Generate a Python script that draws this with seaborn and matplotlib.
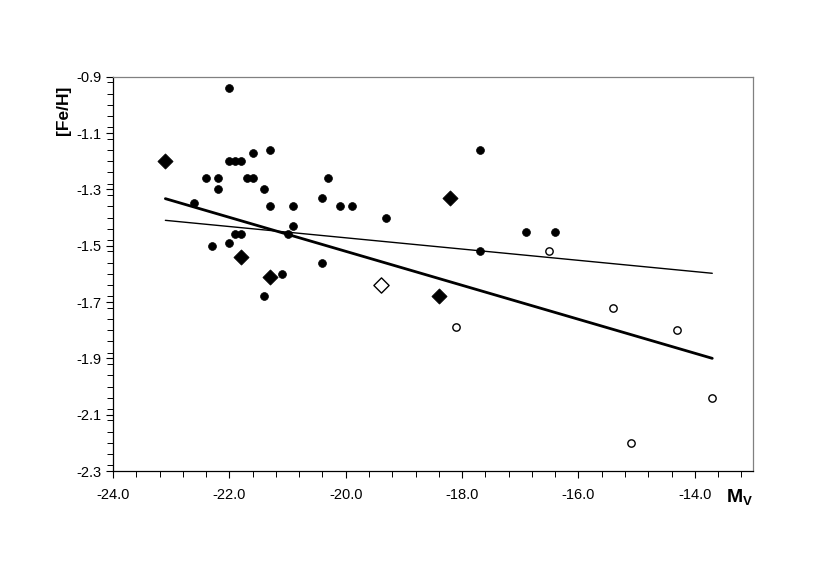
import numpy as np
import pandas as pd
import matplotlib
matplotlib.use("Agg")
import matplotlib.pyplot as plt
from matplotlib.ticker import MultipleLocator
import seaborn as sns

# --- data ---
filled_circle_x = [-22.0, -21.3, -21.6, -22.0, -21.9, -21.8, -22.4, -22.2, -21.7, -21.6,
                   -20.3, -22.2, -21.4, -22.6, -20.4, -21.3, -20.9, -20.1, -19.9, -20.9,
                   -21.0, -21.9, -21.8, -22.0, -22.3, -20.4, -21.1, -21.4,
                   -17.7, -19.3, -16.9, -16.4, -17.7]
filled_circle_y = [-0.94, -1.16, -1.17, -1.20, -1.20, -1.20, -1.26, -1.26, -1.26, -1.26,
                   -1.26, -1.30, -1.30, -1.35, -1.33, -1.36, -1.36, -1.36, -1.36, -1.43,
                   -1.46, -1.46, -1.46, -1.49, -1.50, -1.56, -1.60, -1.68,
                   -1.16, -1.40, -1.45, -1.45, -1.52]
filled_diamond_x = [-23.1, -21.8, -21.3, -18.2, -18.4]
filled_diamond_y = [-1.20, -1.54, -1.61, -1.33, -1.68]
open_diamond_x = [-19.4]
open_diamond_y = [-1.64]
open_circle_x = [-16.5, -18.1, -15.4, -14.3, -13.7, -15.1]
open_circle_y = [-1.52, -1.79, -1.72, -1.80, -2.04, -2.20]
fit_x = [-23.1, -13.7]
fit_thick_y = [-1.333, -1.90]
fit_thin_y = [-1.41, -1.598]
x_ticks = [-24.0, -22.0, -20.0, -18.0, -16.0, -14.0]
y_ticks = [-0.9, -1.1, -1.3, -1.5, -1.7, -1.9, -2.1, -2.3]

sns.set_theme(style="white")
plt.rcParams['font.family'] = ['Liberation Sans', 'DejaVu Sans']
plt.rcParams['text.color'] = 'black'

fig = plt.figure(figsize=(8.3, 5.78), dpi=100)
ax = fig.add_axes([113/830, 1-471/578, (753-113)/830, (471-76.7)/578])

sns.lineplot(x=fit_x, y=fit_thin_y, ax=ax, color='black', lw=1.0)
sns.lineplot(x=fit_x, y=fit_thick_y, ax=ax, color='black', lw=2.0)

sns.scatterplot(x=filled_circle_x, y=filled_circle_y, ax=ax, marker='o', s=32,
                color='black', edgecolor='black', linewidth=0.5, zorder=3)
sns.scatterplot(x=filled_diamond_x, y=filled_diamond_y, ax=ax, marker='D', s=60,
                color='black', edgecolor='black', linewidth=0.5, zorder=3)
sns.scatterplot(x=open_diamond_x, y=open_diamond_y, ax=ax, marker='D', s=60,
                facecolor='white', edgecolor='black', linewidth=1.0, zorder=3)
sns.scatterplot(x=open_circle_x, y=open_circle_y, ax=ax, marker='o', s=28,
                facecolor='white', edgecolor='black', linewidth=1.0, zorder=3)

ax.set_xlim(-24, -13)
ax.set_ylim(-2.3, -0.9)
ax.xaxis.set_minor_locator(MultipleLocator(0.4))
ax.set_yticks(y_ticks)
ax.yaxis.set_minor_locator(MultipleLocator(0.04))
ax.set_xticks(x_ticks)
ax.set_xticklabels([f"{v:.1f}" for v in x_ticks])
ax.set_yticklabels([f"{v:.1f}" for v in y_ticks])

ax.tick_params(axis='both', which='major', direction='out', length=5, width=0.8,
               labelsize=10.5, colors='black', pad=3)
ax.tick_params(axis='both', which='minor', direction='out', length=4, width=0.7, colors='black')
ax.tick_params(bottom=True, left=True, top=False, right=False, which='both')
ax.tick_params(axis='x', which='major', pad=7)

for side in ['left', 'bottom']:
    ax.spines[side].set_color('black')
    ax.spines[side].set_linewidth(0.9)
for side in ['top', 'right']:
    ax.spines[side].set_color('#808080')
    ax.spines[side].set_linewidth(0.9)

ax.set_xlabel('')
ax.set_ylabel('')
fig.text(63/830, 1-110/578, '[Fe/H]', rotation=90, ha='center', va='center',
         fontsize=12.5, fontweight='bold', color='black')
fig.text(727/830, 1-502/578, 'M', ha='left', va='baseline',
         fontsize=14, fontweight='bold', color='black')
fig.text(743/830, 1-505/578, 'V', ha='left', va='baseline',
         fontsize=9.5, fontweight='bold', color='black')

fig.savefig('out.png', dpi=100)
